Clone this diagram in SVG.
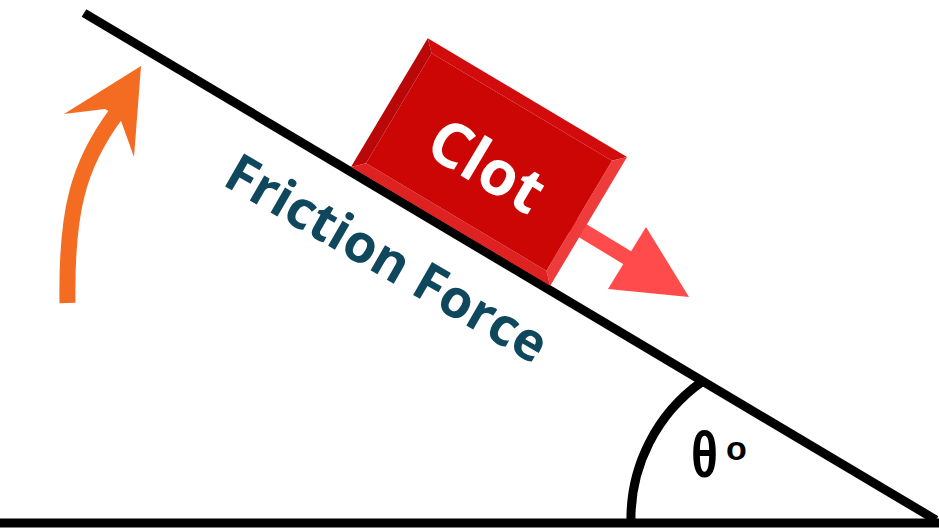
<svg xmlns="http://www.w3.org/2000/svg" width="939" height="528" viewBox="0 0 939 528">
  <style>
    .line { stroke: #000; stroke-width: 9; fill: none; }
    .friction { font-family: "Open Sans", "Liberation Sans", sans-serif; font-weight: 700; font-size: 53px; fill: #0F475C; }
    .clot { font-family: "Open Sans", "Liberation Sans", sans-serif; font-weight: 700; font-size: 62px; fill: #FFFFFF; }
    .theta { font-family: "Liberation Sans", "DejaVu Sans", sans-serif; font-weight: 700; font-size: 64px; fill: #000; }
  </style>
  <rect width="939" height="528" fill="#FFFFFF"/>

  <g id="connectors">
    <g id="force-arrow">
      <line x1="560" y1="217" x2="636" y2="263" stroke="#FF4B4B" stroke-width="15"/>
      <polygon points="646,227 689,297 608,289" fill="#FF4B4B"/>
    </g>
    <g id="lift-arrow">
      <path d="M 67.5 303 C 66 212, 78 165, 116 114" stroke="#F36C21" stroke-width="16" fill="none"/>
      <polygon points="141,66 64,114 105,109 120,118 134,157" fill="#F36C21"/>
    </g>
  </g>

  <g id="ground">
    <line class="line" x1="0" y1="523" x2="939" y2="523" stroke-width="10"/>
  </g>
  <g id="incline">
    <line class="line" x1="84" y1="13" x2="936" y2="520"/>
  </g>
  <g id="angle">
    <path class="line" d="M 631 523 A 168 168 0 0 1 703 381" stroke-width="8"/>
    <text class="theta" x="691" y="477"><tspan textLength="27" lengthAdjust="spacingAndGlyphs">θ</tspan><tspan font-size="34" dx="8" dy="-17">o</tspan></text>
  </g>

  <g id="friction-label">
    <text class="friction" transform="translate(221,184) rotate(30)">Friction Force</text>
  </g>

  <g id="clot" transform="translate(489,162) rotate(30.8)">
    <polygon points="-116,-75 116,-75 105,-64 -105,-64" fill="#D20C0C"/>
    <polygon points="-116,-75 -105,-64 -105,64 -116,75" fill="#BA0707"/>
    <polygon points="116,-75 116,75 105,64 105,-64" fill="#EE3C3C"/>
    <polygon points="-116,75 116,75 105,64 -105,64" fill="#DE2222"/>
    <rect x="-105" y="-64" width="210" height="128" fill="#CC0505"/>
    <text class="clot" x="0" y="26" text-anchor="middle">Clot</text>
  </g>
</svg>
